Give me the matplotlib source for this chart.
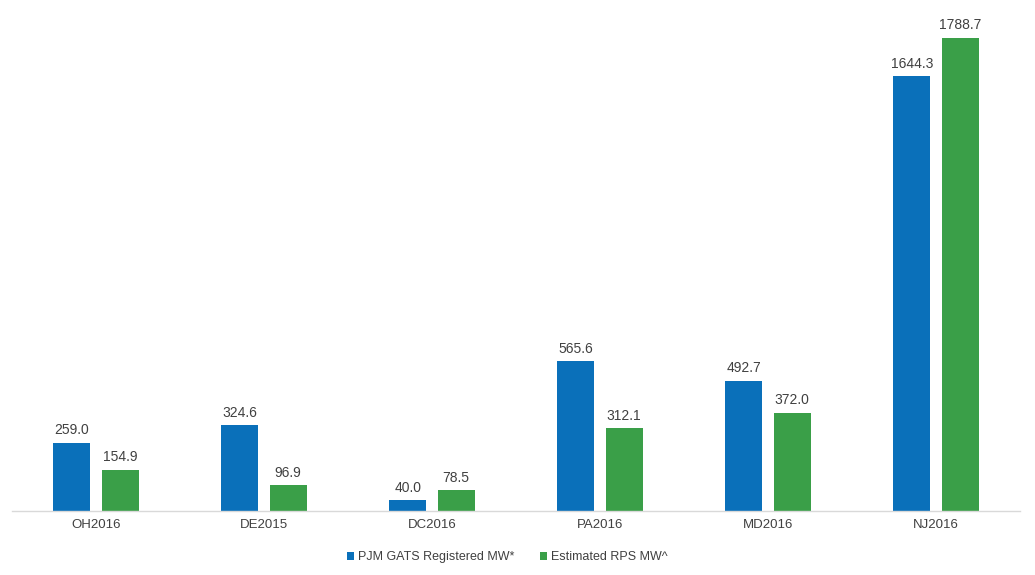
import numpy as np
from matplotlib import pyplot as plt

categories = ["OH2016", "DE2015", "DC2016", "PA2016", "MD2016", "NJ2016"]
gats_mw = [259.0, 324.6, 40.0, 565.6, 492.7, 1644.3]
rps_mw = [154.9, 96.9, 78.5, 312.1, 372.0, 1788.7]
series_names = ["PJM GATS Registered MW*", "Estimated RPS MW^"]

blue = "#0a70ba"
green = "#3a9f48"
txt = "#404040"

plt.rcParams['font.family'] = ['Liberation Sans', 'DejaVu Sans']

fig = plt.figure(figsize=(10.35, 5.75), dpi=100)
ax = fig.add_axes([12 / 1035, 64 / 575, 1008 / 1035, 501 / 575])

x = np.arange(len(categories))
w = 0.22
off = 0.143
b1 = ax.bar(x - off, gats_mw, w, color=blue, label=series_names[0])
b2 = ax.bar(x + off, rps_mw, w, color=green, label=series_names[1])

# value labels on top of each bar
for bars, vals in [(b1, gats_mw), (b2, rps_mw)]:
    for b, v in zip(bars, vals):
        ax.annotate("%.1f" % v, (b.get_x() + b.get_width() / 2, v),
                    xytext=(0, 4), textcoords="offset points",
                    ha="center", va="bottom", fontsize=10, color=txt)

ax.set_xlim(-0.5, len(categories) - 0.5)
ax.set_ylim(0, 1788.7 * 501 / 473)
ax.set_xticks(x)
ax.set_xticklabels(categories, fontsize=9.5, color=txt)
ax.tick_params(axis="x", length=0, pad=6)
ax.set_yticks([])
for s in ["top", "right", "left"]:
    ax.spines[s].set_visible(False)
ax.spines["bottom"].set_color("#d9d9d9")
ax.spines["bottom"].set_linewidth(1)

fig.legend(loc="center", bbox_to_anchor=(0.49, 1 - 557 / 575), ncol=2,
           frameon=False, fontsize=9, handlelength=0.6, handleheight=0.6,
           handletextpad=0.3, columnspacing=2.0, labelcolor=txt)

plt.savefig("out.png", dpi=100)
